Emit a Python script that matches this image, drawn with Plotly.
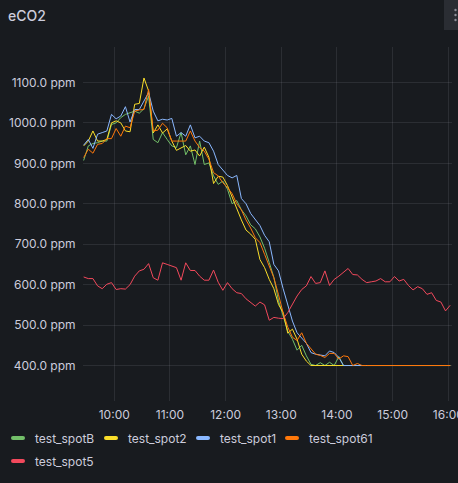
import pandas as pd
import plotly.graph_objects as go

# ---------------- data ----------------
series_names = ["test_spotB", "test_spot2", "test_spot1", "test_spot61", "test_spot5"]
series_colors = ["#73bf69", "#fade2a", "#8ab8ff", "#ff780a", "#f2495c"]

times = pd.date_range("2024-01-01 09:27", periods=80, freq="5min")

spotB = [907, 943, 949, 951, 955, 955, 996, 1000, 1013, 1021, 1025, 1029, 1024, 1035, 1066, 959,
         951, 976, 959, 943, 939, 976, 921, 943, 897, 955, 897, 901, 869, 848, 856, 836,
         800, 808, 785, 770, 748, 738, 718, 690, 655, 618, 560, 520, 485, 465, 438, 450,
         424, 403, 400, 407, 400, 408, 400, 422, 400] + [400] * 23
spot2 = [943, 955, 980, 955, 955, 959, 1000, 1005, 1000, 980, 978, 1046, 1048, 1111, 1079, 975,
         995, 975, 985, 955, 932, 937, 944, 930, 933, 918, 940, 915, 850, 868, 866, 845,
         815, 790, 760, 735, 725, 712, 662, 642, 613, 590, 551, 531, 480, 490, 465, 428,
         411, 400] + [400] * 30
spot1 = [945, 959, 937, 972, 976, 980, 1021, 1010, 1017, 1040, 1002, 1033, 1033, 1054, 1075, 1029,
         1005, 1009, 1007, 1011, 967, 976, 967, 995, 963, 967, 955, 951, 930, 897, 883, 870,
         864, 870, 813, 800, 776, 761, 746, 722, 706, 650, 634, 590, 547, 510, 481, 469,
         455, 432, 428, 426, 424, 436, 432, 420, 400] + [400] * 23
spot61 = [914, 935, 925, 947, 949, 961, 961, 986, 967, 992, 988, 1029, 1032, 1033, 1083, 980,
          982, 999, 988, 955, 955, 955, 955, 980, 955, 939, 930, 910, 877, 869, 852, 840,
          825, 800, 785, 760, 740, 716, 704, 675, 646, 617, 575, 530, 495, 470, 462, 481,
          455, 440, 428, 425, 420, 430, 430, 416, 424, 422, 400, 405, 400] + [400] * 19
spot5 = [619, 615, 615, 597, 590, 601, 605, 588, 590, 589,
         600, 621, 634, 638, 652, 617, 611, 654, 650, 646,
         642, 611, 654, 635, 635, 621, 611, 611, 636, 606,
         586, 605, 590, 580, 578, 565, 556, 547, 557, 550,
         512, 519, 517, 516, 531, 551, 572, 588, 597, 620,
         603, 605, 634, 598, 613, 621, 630, 640, 625, 624,
         613, 605, 607, 609, 615, 607, 607, 620, 609, 613,
         598, 587, 595, 590, 576, 580, 561, 557, 535, 549]

series_values = [spotB, spot2, spot1, spot61, spot5]

y_ticks = [400, 500, 600, 700, 800, 900, 1000, 1100]
y_tick_labels = [f"{v:.1f} ppm" for v in y_ticks]
x_range = ["2024-01-01 09:26:18", "2024-01-01 16:03:58"]
y_range = [312.3, 1187.6]

# ---------------- figure ----------------
W, H = 458, 483
ML, MR, MT, MB = 83, 6, 47, 82
PW, PH = W - ML - MR, H - MT - MB

BG = "#181b1f"
TXT = "#ccccdc"
GRID = "rgba(204,204,220,0.11)"
FONT = "Inter, Roboto, sans-serif"

fig = go.Figure()
for name, color, vals in zip(series_names, series_colors, series_values):
    fig.add_trace(go.Scatter(x=times, y=vals, name=name, mode="lines",
                             line=dict(color=color, width=1), showlegend=False))


def px_x(px):
    return (px - ML) / PW


def px_y(py):
    return (H - MB - py) / PH


# Grafana-like legend (swatch + label)
legend_pos = [(18, 438), (111, 438), (203, 438), (292, 438), (18, 461)]
swatch = "M-5,-2 L5,-2 Q7,-2 7,0 Q7,2 5,2 L-5,2 Q-7,2 -7,0 Q-7,-2 -5,-2 Z"
shapes = []
annotations = []
for (cx, cy), name, color in zip(legend_pos, series_names, series_colors):
    shapes.append(dict(type="path", xref="paper", yref="paper",
                       xsizemode="pixel", ysizemode="pixel",
                       xanchor=px_x(cx), yanchor=px_y(cy),
                       path=swatch,
                       fillcolor=color, line=dict(width=0), layer="above"))
    annotations.append(dict(xref="paper", yref="paper", x=px_x(cx + 14.5), y=px_y(cy),
                            xanchor="left", yanchor="middle", showarrow=False,
                            text=name, font=dict(family=FONT, size=12, color=TXT)))

# panel menu corner
shapes.append(dict(type="rect", xref="paper", yref="paper",
                   x0=px_x(444), x1=px_x(458), y0=px_y(30), y1=px_y(0),
                   fillcolor="#2a2d33", line=dict(width=0), layer="above"))
for dy in (10, 15, 20):
    shapes.append(dict(type="circle", xref="paper", yref="paper",
                       xsizemode="pixel", ysizemode="pixel",
                       xanchor=px_x(455.5), yanchor=px_y(dy),
                       x0=-1.2, x1=1.2, y0=-1.2, y1=1.2,
                       fillcolor="#8e8e99", line=dict(width=0), layer="above"))

fig.update_layout(
    width=W, height=H,
    margin=dict(l=ML, r=MR, t=MT, b=MB, pad=0, autoexpand=False),
    paper_bgcolor=BG, plot_bgcolor=BG,
    font=dict(family=FONT, size=12, color=TXT),
    title=dict(text="eCO2", x=8 / W, y=1 - 16 / H, xref="container", yref="container",
               xanchor="left", yanchor="middle", automargin=False,
               font=dict(family=FONT, size=14, color=TXT, weight=500)),
    showlegend=False,
    shapes=shapes,
    annotations=annotations,
    xaxis=dict(type="date", range=x_range, dtick=3600000, tickformat="%H:%M",
               tick0="2024-01-01 10:00", ticklabeloverflow="allow", automargin=False,
               showgrid=True, gridcolor=GRID, gridwidth=1, zeroline=False,
               showline=False, ticks="outside", ticklen=3, tickcolor="rgba(0,0,0,0)",
               tickfont=dict(family=FONT, size=12, color=TXT), fixedrange=True),
    yaxis=dict(range=y_range, tickvals=y_ticks, ticktext=y_tick_labels, automargin=False,
               showgrid=True, gridcolor=GRID, gridwidth=1, zeroline=False,
               showline=False, ticks="outside", ticklen=4, tickcolor="rgba(0,0,0,0)",
               tickfont=dict(family=FONT, size=12, color=TXT), fixedrange=True),
)

fig.write_html("out.html", config={"displayModeBar": False},
               post_script="document.body.style.margin='0';document.body.style.background='#181b1f';")
